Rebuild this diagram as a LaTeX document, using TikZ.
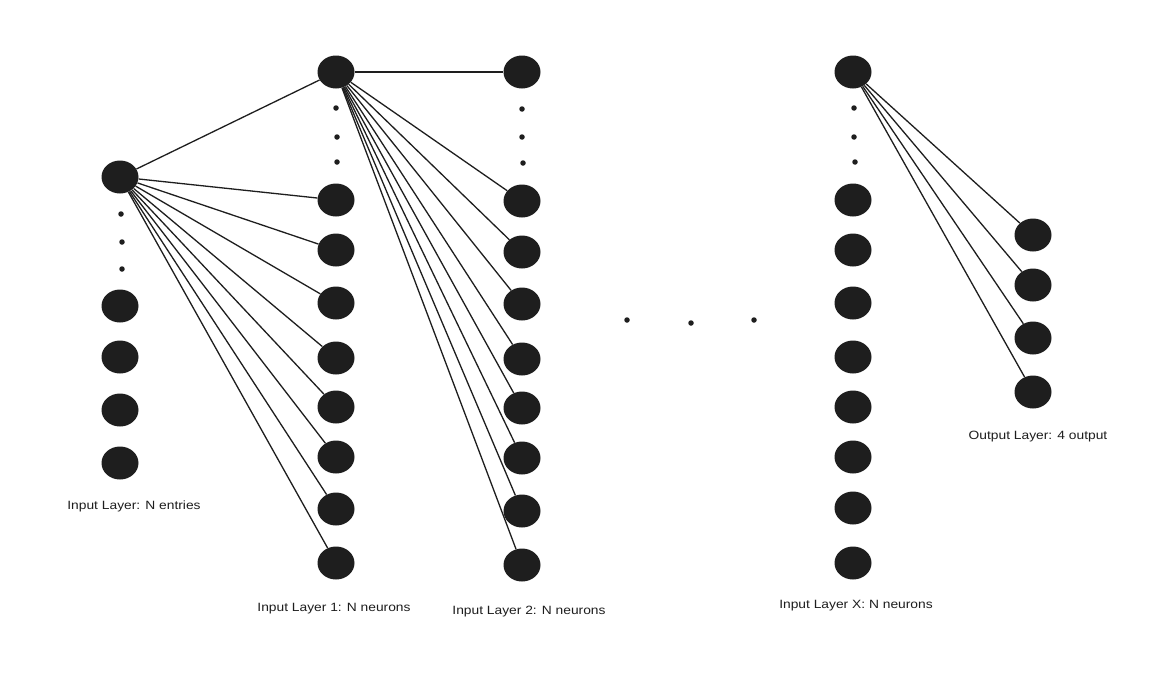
\documentclass[tikz,border=0pt]{standalone}
\usepackage{fontspec}
\setmainfont{Liberation Sans}[FakeStretch=1.15]
\usetikzlibrary{shapes.geometric}
\definecolor{ink}{HTML}{1E1E1E}
\tikzset{
  neuron/.style={ellipse, fill=ink, draw=none, minimum width=37pt, minimum height=33pt, inner sep=0pt},
  conn/.style={draw=ink, line width=1.3pt},
  vdot/.style={circle, fill=ink, inner sep=0pt, minimum size=5.5pt},
  lbl/.style={text=ink, font=\fontsize{12}{14}\selectfont, inner sep=0pt}
}
\begin{document}
\begin{tikzpicture}[x=1pt,y=-1pt]
\useasboundingbox[fill=white] (0,0) rectangle (1169,672);
% input layer
\node[neuron] (i0) at (120,177) {};
\node[vdot] (id1) at (121,214) {};
\node[vdot] (id2) at (122,242) {};
\node[vdot] (id3) at (122,269) {};
\foreach \k/\y in {1/306,2/357,3/410,4/463} \node[neuron] (i\k) at (120,\y) {};
% layer 1
\node[neuron] (a0) at (336,72) {};
\node[vdot] (ad1) at (336,108) {};
\node[vdot] (ad2) at (337,137) {};
\node[vdot] (ad3) at (337,162) {};
\foreach \k/\y in {1/200,2/250,3/303,4/358,5/407,6/457,7/509,8/563} \node[neuron] (a\k) at (336,\y) {};
% layer 2
\node[neuron] (b0) at (522,72) {};
\node[vdot] (bd1) at (522,109) {};
\node[vdot] (bd2) at (522,137) {};
\node[vdot] (bd3) at (523,163) {};
\foreach \k/\y in {1/201,2/252,3/304,4/359,5/408,6/458,7/511,8/565} \node[neuron] (b\k) at (522,\y) {};
% middle dots
\node[vdot] (m1) at (627,320) {};
\node[vdot] (m2) at (691,323) {};
\node[vdot] (m3) at (754,320) {};
% layer X
\node[neuron] (x0) at (853,72) {};
\node[vdot] (xd1) at (854,108) {};
\node[vdot] (xd2) at (854,137) {};
\node[vdot] (xd3) at (855,162) {};
\foreach \k/\y in {1/200,2/250,3/303,4/357,5/407,6/457,7/508,8/563} \node[neuron] (x\k) at (853,\y) {};
% output
\foreach \k/\y in {1/235,2/285,3/338,4/392} \node[neuron] (o\k) at (1033,\y) {};
% connections
\draw[conn] (i0) -- (a0);
\foreach \k in {1,...,8} \draw[conn] (i0) -- (a\k);
\draw[conn] (a0) -- (b0);
\foreach \k in {1,...,8} \draw[conn] (a0) -- (b\k);
\foreach \k in {1,...,4} \draw[conn] (x0) -- (o\k);
% labels
\node[lbl] (li) at (134,506) {Input Layer: N entries};
\node[lbl] (la) at (334,609) {Input Layer 1: N neurons};
\node[lbl] (lb) at (529,612) {Input Layer 2: N neurons};
\node[lbl] (lx) at (856,606) {Input Layer X: N neurons};
\node[lbl] (lo) at (1038,437) {Output Layer: 4 output};
\end{tikzpicture}
\end{document}
